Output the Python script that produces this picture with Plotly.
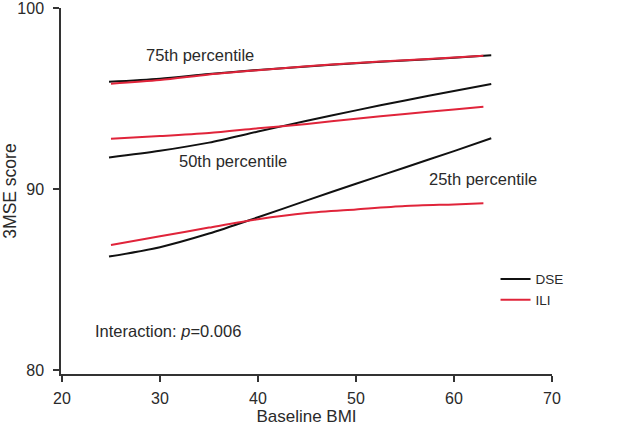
import plotly.graph_objects as go

# Data
bmi_dse = [24.8, 30, 35, 40, 45, 50, 55, 60, 63.8]
bmi_ili = [25.0, 30, 35, 40, 45, 50, 55, 60, 63.0]

dse_p75 = [95.93, 96.10, 96.36, 96.58, 96.77, 96.95, 97.10, 97.25, 97.39]
ili_p75 = [95.82, 96.02, 96.33, 96.57, 96.78, 96.97, 97.12, 97.27, 97.37]

dse_p50 = [91.75, 92.12, 92.57, 93.18, 93.78, 94.35, 94.90, 95.42, 95.81]
ili_p50 = [92.79, 92.93, 93.10, 93.36, 93.60, 93.89, 94.15, 94.40, 94.55]

dse_p25 = [86.28, 86.80, 87.55, 88.45, 89.38, 90.30, 91.20, 92.10, 92.81]
ili_p25 = [86.92, 87.40, 87.88, 88.34, 88.68, 88.88, 89.07, 89.16, 89.22]

x_ticks = [20, 30, 40, 50, 60, 70]
y_ticks = [80, 90, 100]

BLACK = "#111111"
RED = "#e0243a"
TXT = "#2a2a2a"
FONT = "Liberation Sans, Arial, sans-serif"

fig = go.Figure()

series = [
    (bmi_dse, dse_p75, BLACK, "DSE", True),
    (bmi_ili, ili_p75, RED, "ILI", True),
    (bmi_dse, dse_p50, BLACK, "DSE", False),
    (bmi_ili, ili_p50, RED, "ILI", False),
    (bmi_dse, dse_p25, BLACK, "DSE", False),
    (bmi_ili, ili_p25, RED, "ILI", False),
]
for xs, ys, col, name, show in series:
    fig.add_trace(go.Scatter(
        x=xs, y=ys, mode="lines", name=name, showlegend=show,
        line=dict(color=col, width=2, shape="spline", smoothing=0.8),
        legendgroup=name,
    ))

annots = [
    dict(x=34.1, y=97.42, text="75th percentile"),
    dict(x=37.5, y=91.55, text="50th percentile"),
    dict(x=63.0, y=90.55, text="25th percentile"),
]
for a in annots:
    fig.add_annotation(x=a["x"], y=a["y"], text=a["text"], showarrow=False,
                       xanchor="center", yanchor="middle",
                       font=dict(size=16.5, color=TXT, family=FONT))
fig.add_annotation(x=23.2, y=82.2, text="Interaction: <i>p</i>=0.006", showarrow=False,
                   xanchor="left", yanchor="middle",
                   font=dict(size=16.5, color=TXT, family=FONT))

fig.update_layout(
    width=618, height=432,
    margin=dict(l=61, r=66, t=8, b=58),
    paper_bgcolor="white", plot_bgcolor="white",
    font=dict(family=FONT, size=16, color=TXT),
    legend=dict(x=0.885, y=0.23, xanchor="left", yanchor="middle",
                bgcolor="rgba(0,0,0,0)", font=dict(size=13.5, color=TXT),
                itemwidth=30, tracegroupgap=0),
    xaxis=dict(range=[19.9, 70], tickvals=x_ticks, showgrid=False, zeroline=False,
               showline=True, linecolor="#333333", linewidth=1.5, automargin=False,
               ticks="outside", ticklen=6, tickwidth=1.5, tickcolor="#333333",
               ticklabelstandoff=3, ticklabeloverflow="allow",
               tickfont=dict(size=16, color=TXT),
               title=dict(text="Baseline BMI", font=dict(size=17, color=TXT), standoff=4)),
    yaxis=dict(range=[79.8, 100.0], tickvals=y_ticks, showgrid=False, zeroline=False,
               showline=True, linecolor="#333333", linewidth=1.5, automargin=False,
               ticks="outside", ticklen=6, tickwidth=1.5, tickcolor="#333333",
               ticklabelstandoff=6, ticklabeloverflow="allow",
               tickfont=dict(size=16, color=TXT),
               title=dict(text="3MSE score", font=dict(size=17.5, color=TXT), standoff=0)),
)

fig.write_html("out.html", config={"displayModeBar": False},
               post_script="document.body.style.margin='0';")
